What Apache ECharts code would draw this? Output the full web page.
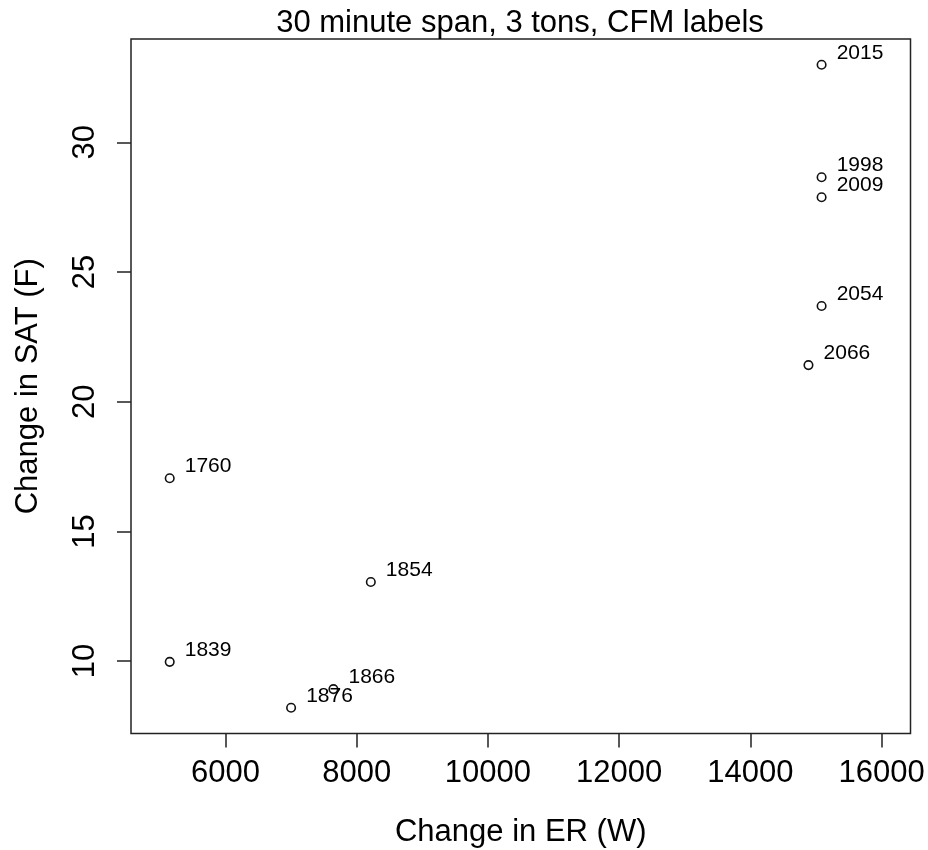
<!DOCTYPE html>
<html>
<head>
<meta charset="utf-8">
<title>30 minute span, 3 tons, CFM labels</title>
<script src="https://cdn.jsdelivr.net/npm/echarts@6/dist/echarts.min.js"></script>
<style>
  html, body { margin: 0; padding: 0; background: #ffffff; }
  #chart { width: 928px; height: 850px; }
</style>
</head>
<body>
<div id="chart"></div>
<script>
// Airflow (CFM) setting for each run, used as the point labels
const cfmLabels = ['2015', '1998', '2009', '2054', '2066', '1760', '1854', '1839', '1866', '1876'];
// Change in ER (W)
const erChange = [15085, 15085, 15085, 15085, 14885, 5150, 8215, 5150, 7645, 7000];
// Change in SAT (F)
const satChange = [32.99, 28.65, 27.88, 23.69, 21.41, 17.05, 13.05, 9.97, 8.92, 8.20];

const xTicks = [6000, 8000, 10000, 12000, 14000, 16000];
const yTicks = [10, 15, 20, 25, 30];
const xLimits = [5000, 16000];

// Axis limits padded by 4% on each side
function padRange(lo, hi) {
  const d = (hi - lo) * 0.04;
  return [lo - d, hi + d];
}
const xRange = padRange(xLimits[0], xLimits[1]);
const yRange = padRange(Math.min(...satChange), Math.max(...satChange));

const FONT = "'Liberation Sans', Arial, sans-serif";
const INK = '#000000';
const FRAME = '#222222';

const points = erChange.map((x, i) => [x, satChange[i], cfmLabels[i]]);

const chart = echarts.init(document.getElementById('chart'), null, { renderer: 'canvas' });

chart.setOption({
  animation: false,
  backgroundColor: '#ffffff',
  title: {
    text: '30 minute span, 3 tons, CFM labels',
    left: 520,
    top: 8,
    textAlign: 'center',
    padding: 0,
    textStyle: { fontFamily: FONT, fontSize: 31, fontWeight: 'normal', color: INK }
  },
  grid: {
    left: 131,
    right: 17.5,
    top: 39,
    bottom: 116.5,
    outerBoundsMode: 'none',
    containLabel: false,
    show: true,
    borderColor: FRAME,
    borderWidth: 1.5,
    backgroundColor: 'transparent'
  },
  xAxis: {
    type: 'value',
    min: xRange[0],
    max: xRange[1],
    name: 'Change in ER (W)',
    nameLocation: 'middle',
    nameGap: 83,
    nameTextStyle: { fontFamily: FONT, fontSize: 31, color: INK },
    axisLine: { show: false },
    axisTick: {
      show: true,
      inside: false,
      length: 14,
      customValues: xTicks,
      lineStyle: { color: FRAME, width: 1.5 }
    },
    axisLabel: {
      show: true,
      customValues: xTicks,
      formatter: v => String(v),
      margin: 24,
      fontFamily: FONT,
      fontSize: 31,
      color: INK
    },
    splitLine: { show: false }
  },
  yAxis: {
    type: 'value',
    min: yRange[0],
    max: yRange[1],
    name: 'Change in SAT (F)',
    nameLocation: 'middle',
    nameGap: 87,
    nameTextStyle: { fontFamily: FONT, fontSize: 31, color: INK },
    axisLine: { show: false },
    axisTick: {
      show: true,
      inside: false,
      length: 14,
      customValues: yTicks,
      lineStyle: { color: FRAME, width: 1.5 }
    },
    axisLabel: {
      show: true,
      customValues: yTicks,
      formatter: v => String(v),
      rotate: 90,
      margin: 30,
      fontFamily: FONT,
      fontSize: 31,
      color: INK
    },
    splitLine: { show: false }
  },
  series: [{
    type: 'scatter',
    data: points,
    symbol: 'circle',
    symbolSize: 8.5,
    itemStyle: { color: 'rgba(0,0,0,0)', borderColor: '#111111', borderWidth: 1.6, opacity: 1 },
    label: {
      show: true,
      position: 'right',
      distance: 10,
      offset: [0, -12],
      formatter: p => p.value[2],
      fontFamily: FONT,
      fontSize: 21,
      color: INK,
      opacity: 1,
      textBorderWidth: 0
    },
    emphasis: { disabled: true },
    silent: true
  }]
});
</script>
</body>
</html>
